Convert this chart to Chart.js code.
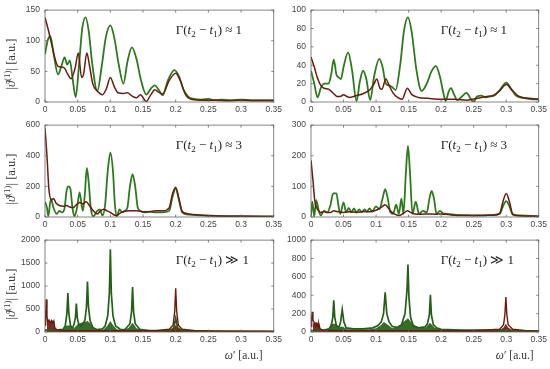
<!DOCTYPE html>
<html>
<head>
<meta charset="utf-8">
<script src="https://cdn.jsdelivr.net/npm/chart.js@4.4.1/dist/chart.umd.min.js"></script>
<style>
  html, body { margin: 0; padding: 0; background: #fff; }
  #wrap { position: relative; width: 550px; height: 369px; overflow: hidden; }
  canvas { position: absolute; }
</style>
</head>
<body>
<div id="wrap">
  <canvas id="p1" width="285" height="117" style="left:0px;top:0px"></canvas>
  <canvas id="p2" width="265" height="117" style="left:285px;top:0px"></canvas>
  <canvas id="p3" width="285" height="117" style="left:0px;top:115px"></canvas>
  <canvas id="p4" width="265" height="117" style="left:285px;top:115px"></canvas>
  <canvas id="p5" width="285" height="139" style="left:0px;top:230px"></canvas>
  <canvas id="p6" width="265" height="139" style="left:285px;top:230px"></canvas>
</div>
<script>
// x axis (omega') ticks, shared by all panels
const xTicks = [0, 0.05, 0.1, 0.15, 0.2, 0.25, 0.3, 0.35];
const xTickLabels = ['0', '0.05', '0.1', '0.15', '0.2', '0.25', '0.3', '0.35'];

// y ticks per panel
const p1YTicks = [0, 50, 100, 150];
const p2YTicks = [0, 20, 40, 60, 80, 100];
const p3YTicks = [0, 200, 400, 600];
const p4YTicks = [0, 100, 200, 300];
const p5YTicks = [0, 500, 1000, 1500, 2000];
const p6YTicks = [0, 200, 400, 600, 800, 1000];

// --- top left: Gamma(t2-t1) ~ 1
const p1GreenX = [0, 0.004, 0.008, 0.013, 0.02, 0.025, 0.03, 0.034, 0.038, 0.042,
  0.047, 0.052, 0.057, 0.062, 0.067, 0.072, 0.08, 0.087, 0.093, 0.1,
  0.106, 0.113, 0.12, 0.126, 0.133, 0.14, 0.147, 0.155, 0.162, 0.168,
  0.174, 0.18, 0.188, 0.198, 0.205, 0.212, 0.22, 0.228, 0.24, 0.25,
  0.26, 0.27, 0.285, 0.3, 0.32, 0.35];
const p1GreenY = [78, 100, 108, 80, 45, 58, 73, 61, 68, 40,
  8, 60, 120, 138, 115, 65, 18, 60, 105, 125,
  105, 60, 30, 65, 89, 70, 35, 12, 22, 27,
  20, 11, 35, 52, 42, 20, 8, 5, 4, 5,
  3, 4, 3, 4, 3, 3];
const p1RedX = [0, 0.005, 0.01, 0.015, 0.02, 0.025, 0.03, 0.035, 0.04, 0.046,
  0.051, 0.056, 0.059, 0.064, 0.068, 0.073, 0.08, 0.088, 0.094, 0.1,
  0.106, 0.112, 0.12, 0.126, 0.133, 0.14, 0.146, 0.155, 0.162, 0.168,
  0.174, 0.18, 0.19, 0.2, 0.207, 0.215, 0.225, 0.24, 0.26, 0.28,
  0.3, 0.32, 0.35];
const p1RedY = [138, 118, 95, 72, 58, 57, 55, 45, 38, 55,
  80, 40, 45, 80, 60, 30, 18, 12, 22, 40,
  25, 15, 14, 15, 10, 7, 12, 1, 12, 20,
  16, 13, 35, 47, 35, 12, 4, 3, 3, 2,
  3, 2, 2];

// --- top right
const p2GreenX = [0, 0.005, 0.01, 0.015, 0.02, 0.027, 0.031, 0.035, 0.039, 0.042,
  0.046, 0.05, 0.057, 0.063, 0.07, 0.075, 0.08, 0.085, 0.091, 0.097,
  0.105, 0.11, 0.115, 0.12, 0.125, 0.13, 0.137, 0.143, 0.149, 0.155,
  0.162, 0.17, 0.178, 0.185, 0.192, 0.198, 0.204, 0.207, 0.211, 0.215,
  0.22, 0.225, 0.232, 0.239, 0.245, 0.25, 0.255, 0.262, 0.268, 0.275,
  0.282, 0.29, 0.3, 0.308, 0.315, 0.322, 0.33, 0.34, 0.35];
const p2GreenY = [34, 20, 5, 15, 20, 20, 30, 46, 30, 27,
  25, 38, 54, 35, 1, 22, 34, 25, 2, 28,
  47, 38, 20, 18, 16, 13, 40, 78, 92, 75,
  35, 12, 20, 33, 39, 28, 8, 1, 10, 15,
  8, 2, 6, 10, 4, 0, 6, 7, 5, 6,
  7, 13, 21, 14, 7, 5, 4, 3, 3];
const p2RedX = [0, 0.005, 0.01, 0.015, 0.02, 0.027, 0.035, 0.04, 0.045, 0.05,
  0.055, 0.06, 0.07, 0.08, 0.09, 0.097, 0.101, 0.106, 0.109, 0.115,
  0.12, 0.126, 0.133, 0.14, 0.148, 0.155, 0.165, 0.18, 0.2, 0.22,
  0.24, 0.255, 0.27, 0.28, 0.29, 0.3, 0.31, 0.32, 0.335, 0.35];
const p2RedY = [49, 38, 26, 18, 15, 14, 9, 6, 6, 8,
  6, 5, 7, 9, 13, 20, 25, 15, 14, 25,
  18, 10, 5, 3, 15, 8, 5, 4, 3, 3,
  2, 4, 6, 7, 12, 19, 12, 6, 4, 3];

// --- middle left: Gamma(t2-t1) ~ 3
const p3GreenX = [0, 0.003, 0.005, 0.009, 0.013, 0.018, 0.022, 0.026, 0.03, 0.033,
  0.036, 0.039, 0.042, 0.045, 0.049, 0.053, 0.056, 0.058, 0.061, 0.064,
  0.067, 0.07, 0.074, 0.08, 0.084, 0.088, 0.092, 0.096, 0.1, 0.104,
  0.107, 0.11, 0.114, 0.118, 0.122, 0.126, 0.13, 0.134, 0.138, 0.142,
  0.146, 0.152, 0.16, 0.17, 0.18, 0.19, 0.195, 0.2, 0.205, 0.21,
  0.22, 0.24, 0.27, 0.3, 0.35];
const p3GreenY = [100, 60, 5, 120, 60, 20, 40, 30, 60, 170,
  200, 180, 60, 5, 60, 160, 80, 40, 150, 320,
  220, 60, 5, 40, 50, 10, 80, 300, 420, 300,
  80, 5, 50, 30, 40, 60, 200, 280, 200, 60,
  40, 30, 35, 30, 30, 40, 130, 185, 110, 30,
  15, 10, 6, 5, 4];
const p3RedX = [0, 0.003, 0.006, 0.01, 0.013, 0.017, 0.022, 0.028, 0.033, 0.038,
  0.043, 0.048, 0.053, 0.058, 0.063, 0.068, 0.074, 0.08, 0.085, 0.09,
  0.095, 0.1, 0.105, 0.11, 0.115, 0.12, 0.13, 0.14, 0.15, 0.16,
  0.17, 0.18, 0.19, 0.195, 0.2, 0.205, 0.21, 0.22, 0.24, 0.27,
  0.3, 0.35];
const p3RedY = [580, 400, 180, 110, 120, 90, 75, 70, 75, 65,
  60, 80, 95, 85, 100, 75, 40, 20, 40, 50,
  40, 30, 15, 10, 25, 35, 40, 40, 35, 35,
  40, 40, 60, 150, 195, 120, 35, 20, 12, 7,
  5, 3];

// --- middle right
const p4GreenX = [0, 0.002, 0.005, 0.008, 0.012, 0.015, 0.02, 0.025, 0.03, 0.034,
  0.039, 0.042, 0.045, 0.05, 0.054, 0.058, 0.062, 0.066, 0.07, 0.074,
  0.078, 0.082, 0.086, 0.09, 0.094, 0.1, 0.105, 0.11, 0.114, 0.118,
  0.122, 0.126, 0.131, 0.135, 0.139, 0.142, 0.146, 0.149, 0.152, 0.156,
  0.161, 0.166, 0.172, 0.178, 0.182, 0.1855, 0.189, 0.193, 0.198, 0.203,
  0.21, 0.22, 0.24, 0.26, 0.28, 0.29, 0.295, 0.3, 0.305, 0.31,
  0.32, 0.35];
const p4GreenY = [5, 50, 2, 55, 20, 5, 20, 15, 40, 77,
  77, 40, 10, 48, 15, 30, 15, 28, 15, 25,
  15, 25, 18, 28, 18, 35, 25, 60, 91, 60,
  15, 10, 40, 10, 60, 10, 150, 232, 150, 10,
  50, 10, 20, 15, 60, 85, 60, 10, 20, 12,
  10, 8, 6, 5, 7, 10, 35, 52, 35, 8,
  5, 3];
const p4RedX = [0, 0.003, 0.006, 0.01, 0.015, 0.02, 0.025, 0.03, 0.035, 0.04,
  0.05, 0.06, 0.07, 0.08, 0.09, 0.1, 0.105, 0.11, 0.114, 0.118,
  0.122, 0.128, 0.135, 0.142, 0.148, 0.153, 0.16, 0.17, 0.18, 0.19,
  0.2, 0.22, 0.25, 0.28, 0.29, 0.295, 0.3, 0.305, 0.31, 0.32,
  0.35];
const p4RedY = [185, 120, 50, 25, 15, 18, 15, 15, 20, 18,
  15, 17, 15, 18, 17, 22, 28, 35, 40, 32,
  20, 10, 5, 12, 20, 15, 10, 9, 10, 9,
  10, 6, 5, 6, 12, 50, 77, 50, 10, 4,
  2];

// --- bottom left: Gamma(t2-t1) >> 1
const p5GreenX = [0, 0.01, 0.02, 0.028, 0.031, 0.0335, 0.035, 0.0365, 0.039, 0.042,
  0.044, 0.0465, 0.048, 0.0495, 0.052, 0.056, 0.061, 0.0635, 0.065, 0.0665,
  0.069, 0.073, 0.08, 0.088, 0.092, 0.096, 0.0985, 0.1, 0.1015, 0.104,
  0.108, 0.115, 0.122, 0.13, 0.1325, 0.134, 0.1355, 0.138, 0.145, 0.16,
  0.18, 0.192, 0.197, 0.2, 0.203, 0.21, 0.25, 0.3, 0.35];
const p5GreenY = [40, 40, 45, 60, 140, 400, 850, 400, 140, 80,
  150, 300, 620, 300, 150, 130, 250, 550, 1100, 550,
  250, 100, 50, 70, 130, 350, 850, 1800, 850, 350,
  130, 60, 50, 180, 450, 980, 450, 180, 60, 30,
  30, 40, 90, 300, 90, 30, 20, 15, 12];
const p5GreenBandX = [0.02, 0.028, 0.032, 0.038, 0.042, 0.046, 0.05, 0.055, 0.06, 0.065,
  0.07, 0.075, 0.08, 0.09, 0.095, 0.1, 0.105, 0.11, 0.12, 0.128,
  0.134, 0.14, 0.15, 0.17, 0.19, 0.2, 0.21, 0.25, 0.3, 0.35];
const p5GreenBandY = [20, 40, 140, 140, 60, 110, 170, 200, 210, 240,
  180, 70, 45, 60, 130, 240, 130, 60, 40, 90,
  200, 80, 35, 25, 25, 50, 25, 12, 10, 6];
const p5RedX = [0, 0.001, 0.002, 0.003, 0.004, 0.006, 0.008, 0.01, 0.012, 0.0135,
  0.015, 0.018, 0.025, 0.05, 0.08, 0.11, 0.14, 0.17, 0.19, 0.196,
  0.1985, 0.2, 0.2015, 0.204, 0.21, 0.23, 0.27, 0.3, 0.35];
const p5RedY = [150, 400, 710, 350, 220, 260, 180, 250, 200, 240,
  90, 50, 35, 30, 28, 28, 28, 28, 60, 150,
  450, 950, 450, 150, 60, 30, 20, 15, 10];
const p5RedBandX = [0.003, 0.005, 0.008, 0.011, 0.013, 0.015, 0.02, 0.06, 0.12, 0.19,
  0.197, 0.2, 0.203, 0.21, 0.25];
const p5RedBandY = [230, 260, 240, 255, 230, 80, 30, 20, 20, 35,
  100, 150, 100, 35, 10];

// --- bottom right
const p6GreenX = [0, 0.01, 0.02, 0.028, 0.031, 0.0335, 0.035, 0.0365, 0.039, 0.043,
  0.0455, 0.048, 0.0505, 0.054, 0.065, 0.08, 0.095, 0.103, 0.108, 0.1115,
  0.114, 0.1165, 0.12, 0.125, 0.132, 0.139, 0.1445, 0.1475, 0.149, 0.1505,
  0.153, 0.157, 0.165, 0.175, 0.179, 0.182, 0.1835, 0.185, 0.188, 0.193,
  0.2, 0.23, 0.27, 0.3, 0.35];
const p6GreenY = [15, 18, 22, 35, 70, 160, 345, 160, 70, 50,
  110, 245, 110, 45, 35, 35, 45, 70, 110, 200,
  433, 200, 110, 60, 50, 75, 200, 450, 735, 380,
  160, 70, 45, 55, 90, 190, 405, 190, 80, 45,
  30, 22, 20, 18, 10];
const p6GreenBandX = [0.026, 0.031, 0.039, 0.043, 0.046, 0.05, 0.055, 0.07, 0.09, 0.1,
  0.107, 0.112, 0.118, 0.125, 0.135, 0.142, 0.149, 0.156, 0.165, 0.176,
  0.183, 0.19, 0.2, 0.25, 0.3, 0.35];
const p6GreenBandY = [20, 90, 90, 40, 60, 55, 30, 30, 30, 40,
  70, 110, 80, 40, 60, 110, 150, 90, 40, 50,
  100, 45, 30, 20, 18, 10];
const p6RedX = [0, 0.001, 0.002, 0.003, 0.005, 0.007, 0.009, 0.011, 0.012, 0.014,
  0.02, 0.05, 0.1, 0.15, 0.2, 0.25, 0.29, 0.296, 0.298, 0.2995,
  0.301, 0.303, 0.31, 0.33, 0.35];
const p6RedY = [60, 150, 220, 130, 100, 60, 90, 50, 90, 30,
  20, 15, 15, 15, 15, 15, 30, 80, 190, 380,
  190, 80, 30, 15, 10];
const p6RedBandX = [0.003, 0.006, 0.009, 0.012, 0.014, 0.02, 0.29, 0.296, 0.2995, 0.303, 0.31];
const p6RedBandY = [90, 110, 100, 100, 40, 15, 20, 50, 90, 50, 20];

const GREEN = '#2d7a1c';
const GREEN_DARK = '#245f15';
const RED = '#6a1b10';
const GREEN_BAND = 'rgba(34,92,18,0.9)';
const RED_BAND = 'rgba(105,24,10,0.9)';
const SERIF = '"Liberation Serif", "DejaVu Serif", serif';
const SANS = '"Liberation Sans", Arial, sans-serif';

function pts(xs, ys) {
  return xs.map((x, i) => ({ x: x, y: ys[i] }));
}

function line(label, xs, ys, color, width, smooth) {
  return {
    label: label,
    data: pts(xs, ys),
    borderColor: color,
    borderWidth: width,
    pointRadius: 0,
    fill: false,
    cubicInterpolationMode: smooth ? 'monotone' : 'default',
    tension: 0
  };
}

function band(label, xs, ys, color) {
  return {
    label: label,
    data: pts(xs, ys),
    borderWidth: 0,
    borderColor: color,
    backgroundColor: color,
    pointRadius: 0,
    fill: 'origin',
    tension: 0
  };
}

function drawRich(ctx, segs, x, y, size, center) {
  const fontFor = s => (s.s === 'i' ? 'italic ' : '') +
    ((s.s === 'sub' || s.s === 'sup') ? Math.round(size * 0.68) : size) + 'px ' + SERIF;
  let total = 0;
  segs.forEach(s => { ctx.font = fontFor(s); total += ctx.measureText(s.t).width; });
  let cx = center ? x - total / 2 : x;
  ctx.textAlign = 'left';
  ctx.textBaseline = 'alphabetic';
  segs.forEach(s => {
    ctx.font = fontFor(s);
    const dy = s.s === 'sub' ? size * 0.25 : (s.s === 'sup' ? -size * 0.42 : 0);
    ctx.fillText(s.t, cx, y + dy);
    cx += ctx.measureText(s.t).width;
  });
}

function annoSegs(rel) {
  return [{ t: 'Γ(', s: 'n' }, { t: 't', s: 'i' }, { t: '2', s: 'sub' }, { t: ' − ', s: 'n' },
    { t: 't', s: 'i' }, { t: '1', s: 'sub' }, { t: ') ' + rel, s: 'n' }];
}
const yTitleSegs = [{ t: '|', s: 'n' }, { t: 'ϑ', s: 'i' }, { t: '(1)', s: 'sup' }, { t: '| [a.u.]', s: 'n' }];
const xTitleSegs = [{ t: 'ω', s: 'i' }, { t: '′ [a.u.]', s: 'n' }];

// box, inward ticks and the text labels MATLAB-style
const framePlugin = {
  id: 'frame',
  afterDatasetsDraw(chart, args, opts) {
    const { ctx, chartArea: a, scales } = chart;
    ctx.save();
    ctx.strokeStyle = '#666';
    ctx.lineWidth = 0.8;
    ctx.strokeRect(a.left, a.top, a.width, a.height);
    ctx.beginPath();
    scales.x.ticks.forEach(t => {
      const px = scales.x.getPixelForValue(t.value);
      ctx.moveTo(px, a.bottom); ctx.lineTo(px, a.bottom - 2.5);
      ctx.moveTo(px, a.top); ctx.lineTo(px, a.top + 2.5);
    });
    scales.y.ticks.forEach(t => {
      const py = scales.y.getPixelForValue(t.value);
      ctx.moveTo(a.left, py); ctx.lineTo(a.left + 2.5, py);
      ctx.moveTo(a.right, py); ctx.lineTo(a.right - 2.5, py);
    });
    ctx.stroke();
    ctx.restore();
  },
  afterDraw(chart, args, opts) {
    const { ctx, chartArea: a } = chart;
    ctx.save();
    ctx.fillStyle = '#222';
    drawRich(ctx, annoSegs(opts.rel), a.right - 98, a.top + 24, 13, false);
    if (opts.yTitle) {
      ctx.save();
      ctx.translate(15, (a.top + a.bottom) / 2 + 8);
      ctx.rotate(-Math.PI / 2);
      ctx.fillStyle = '#333';
      drawRich(ctx, yTitleSegs, 0, 0, 12.5, true);
      ctx.restore();
    }
    if (opts.xTitle) {
      ctx.fillStyle = '#333';
      drawRich(ctx, xTitleSegs, a.right - opts.xTitleOffset, a.bottom + 27, 11.5, true);
    }
    ctx.restore();
  }
};

function makePanel(id, yTicks, datasets, o) {
  const tickFont = { family: SANS, size: 8.5 };
  new Chart(document.getElementById(id), {
    type: 'line',
    data: { datasets: datasets },
    options: {
      responsive: false,
      animation: false,
      events: [],
      layout: { padding: { left: 0, right: 10, top: 7, bottom: o.bottom ? 22 : 0 } },
      scales: {
        x: {
          type: 'linear',
          min: 0,
          max: 0.35,
          grid: { display: false, drawTicks: false },
          border: { display: false },
          afterBuildTicks: s => { s.ticks = xTicks.map(v => ({ value: v })); },
          afterFit: s => { s.height = 15; },
          ticks: {
            font: tickFont,
            color: '#444',
            padding: 3,
            maxRotation: 0,
            autoSkip: false,
            callback: (v, i) => xTickLabels[i]
          }
        },
        y: {
          type: 'linear',
          min: yTicks[0],
          max: yTicks[yTicks.length - 1],
          grid: { display: false, drawTicks: false },
          border: { display: false },
          afterBuildTicks: s => { s.ticks = yTicks.map(v => ({ value: v })); },
          afterFit: s => { s.width = o.left ? 45 : 26; },
          ticks: {
            font: tickFont,
            color: '#444',
            padding: 5,
            autoSkip: false,
            callback: v => String(v)
          }
        }
      },
      plugins: {
        legend: { display: false },
        tooltip: { enabled: false },
        frame: { rel: o.rel, yTitle: o.left, xTitle: o.bottom, xTitleOffset: o.left ? 30 : 24 }
      }
    },
    plugins: [framePlugin]
  });
}

makePanel('p1', p1YTicks, [
  line('red', p1RedX, p1RedY, RED, 1.5, true),
  line('green', p1GreenX, p1GreenY, GREEN, 1.8, true)
], { left: true, bottom: false, rel: '≈ 1' });

makePanel('p2', p2YTicks, [
  line('red', p2RedX, p2RedY, RED, 1.5, true),
  line('green', p2GreenX, p2GreenY, GREEN, 1.8, true)
], { left: false, bottom: false, rel: '≈ 1' });

makePanel('p3', p3YTicks, [
  line('red', p3RedX, p3RedY, RED, 1.5, true),
  line('green', p3GreenX, p3GreenY, GREEN, 1.8, true)
], { left: true, bottom: false, rel: '≈ 3' });

makePanel('p4', p4YTicks, [
  line('red', p4RedX, p4RedY, RED, 1.5, true),
  line('green', p4GreenX, p4GreenY, GREEN, 1.8, true)
], { left: false, bottom: false, rel: '≈ 3' });

makePanel('p5', p5YTicks, [
  line('red', p5RedX, p5RedY, RED, 1.4, false),
  line('green', p5GreenX, p5GreenY, GREEN_DARK, 1.7, false),
  band('red band', p5RedBandX, p5RedBandY, RED_BAND),
  band('green band', p5GreenBandX, p5GreenBandY, GREEN_BAND)
], { left: true, bottom: true, rel: '≫ 1' });

makePanel('p6', p6YTicks, [
  line('red', p6RedX, p6RedY, RED, 1.4, false),
  line('green', p6GreenX, p6GreenY, GREEN_DARK, 1.7, false),
  band('red band', p6RedBandX, p6RedBandY, RED_BAND),
  band('green band', p6GreenBandX, p6GreenBandY, GREEN_BAND)
], { left: false, bottom: true, rel: '≫ 1' });
</script>
</body>
</html>
